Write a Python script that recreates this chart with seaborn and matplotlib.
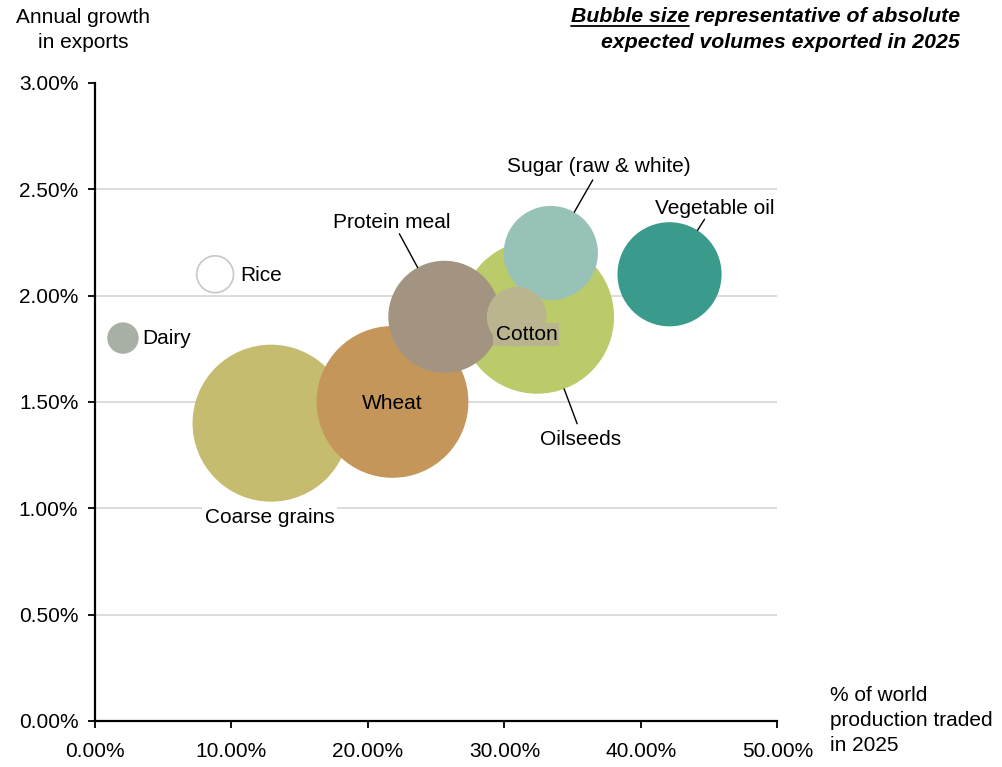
import matplotlib
matplotlib.use("Agg")
import matplotlib.pyplot as plt
from matplotlib.ticker import FuncFormatter, MultipleLocator
import seaborn as sns
import pandas as pd

# Commodities, in drawing order (later bubbles sit on top)
commodities = ["Coarse grains", "Wheat", "Oilseeds", "Protein meal",
               "Sugar (raw & white)", "Cotton", "Vegetable oil", "Rice", "Dairy"]
# Share of world production traded in 2025 (%)
share_traded = [12.9, 21.8, 32.4, 25.6, 33.4, 30.9, 42.1, 8.8, 2.05]
# Annual growth in exports (%)
export_growth = [1.40, 1.50, 1.90, 1.90, 2.20, 1.90, 2.10, 2.10, 1.80]
# Relative export volume in 2025 (bubble area)
export_volume = [200, 187, 192, 102, 72, 29, 88, 11, 8]

# Horizontal reference lines
grid_levels = [0.5, 1.0, 1.5, 2.0, 2.5]

colors = {
    "Coarse grains": "#C6BC70",
    "Wheat": "#C4965A",
    "Oilseeds": "#BBCB6A",
    "Protein meal": "#A39482",
    "Sugar (raw & white)": "#98C2B8",
    "Cotton": "#BAB58E",
    "Vegetable oil": "#3A9B8C",
    "Rice": "#FFFFFF",
    "Dairy": "#A8AFA5",
}

df = pd.DataFrame({"commodity": commodities, "share": share_traded,
                   "growth": export_growth, "volume": export_volume})

sns.set_theme(style="white")
plt.rcParams["font.family"] = ["Liberation Sans", "DejaVu Sans"]
FS = 15

fig = plt.figure(figsize=(10.02, 7.67), dpi=100)
ax = fig.add_axes([0.0948, 0.06, 0.681, 0.832])

VMAX = 200
SMAX = 12775  # marker area (pt^2) for VMAX
edgecols = ["#C8C8C8" if c == "Rice" else "none" for c in commodities]
lws = [1.2 if c == "Rice" else 0 for c in commodities]

sns.scatterplot(data=df, x="share", y="growth", hue="commodity", palette=colors,
                size="volume", sizes=(0, SMAX), size_norm=(0, VMAX),
                edgecolor=edgecols, linewidth=lws, alpha=1, legend=False,
                ax=ax, zorder=3)

ax.set_xlim(0, 50)
ax.set_ylim(0, 3)
ax.xaxis.set_major_locator(MultipleLocator(10))
ax.yaxis.set_major_locator(MultipleLocator(0.5))
fmt = FuncFormatter(lambda v, p: f"{v:.2f}%")
ax.xaxis.set_major_formatter(fmt)
ax.yaxis.set_major_formatter(fmt)
ax.set_xlabel("")
ax.set_ylabel("")

for s in ["top", "right"]:
    ax.spines[s].set_visible(False)
for s in ["left", "bottom"]:
    ax.spines[s].set_color("black")
    ax.spines[s].set_linewidth(1.6)

ax.tick_params(axis="both", which="major", direction="out", length=5, width=1.3,
               color="black", labelsize=FS, labelcolor="black")
ax.tick_params(axis="y", pad=7, left=True)
ax.tick_params(axis="x", pad=10, bottom=True)

ax.grid(False)
for g in grid_levels:
    ax.axhline(g, color="#D9D9D9", linewidth=1.3, zorder=0)

# Bubble radius in points for a given volume
def radius_pt(v):
    return (SMAX * v / VMAX) ** 0.5 / 2

lookup = df.set_index("commodity")

def place(name, dx, dy, ha="center", bbox=None):
    r = lookup.loc[name]
    ax.annotate(name, xy=(r["share"], r["growth"]), xytext=(dx, dy),
                textcoords="offset points", ha=ha, va="center", fontsize=FS,
                color="black", zorder=6, bbox=bbox)

def leader(name, dx, dy):
    r = lookup.loc[name]
    ax.annotate("", xy=(r["share"], r["growth"]), xytext=(dx, dy),
                textcoords="offset points",
                arrowprops=dict(arrowstyle="-", color="black", lw=1.0,
                                shrinkA=0, shrinkB=radius_pt(r["volume"])),
                zorder=5)

place("Dairy", 14, 0, ha="left")
place("Rice", 18, -1, ha="left")
place("Coarse grains", -1, -68, bbox=dict(facecolor="white", edgecolor="none", pad=2))
place("Wheat", 0, -1.5)
place("Cotton", 7, -13, bbox=dict(facecolor="#B9B48E", edgecolor="none", pad=1.5))
place("Protein meal", -38, 68)
leader("Protein meal", -32.4, 59.8)
place("Oilseeds", 31, -88)
leader("Oilseeds", 28.8, -77)
place("Sugar (raw & white)", 34.5, 62)
leader("Sugar (raw & white)", 30.2, 52.6)
place("Vegetable oil", 32.4, 47.5)
leader("Vegetable oil", 25.2, 39.6)

fig.text(83 / 1002, 1 - 30 / 767, "Annual growth\nin exports", ha="center",
         va="center", fontsize=FS, color="black", linespacing=1.4)
fig.text(830 / 1002, 1 - 720.5 / 767, "% of world\nproduction traded\nin 2025",
         ha="left", va="center", fontsize=FS, color="black", linespacing=1.4)

# Heading: underlined lead words followed by the rest of the first line
TFS = 15.3
t2 = fig.text(960 / 1002, 1 - 42 / 767, "expected volumes exported in 2025",
              ha="right", va="center", fontsize=TFS, fontweight="bold",
              fontstyle="italic", color="black")
t1 = fig.text(960 / 1002, 1 - 17 / 767, " representative of absolute",
              ha="right", va="center", fontsize=TFS, fontweight="bold",
              fontstyle="italic", color="black")
fig.canvas.draw()
bb = t1.get_window_extent()
x_lead = bb.x0 / fig.bbox.width
t0 = fig.text(x_lead, 1 - 17 / 767, "Bubble size", ha="right", va="center",
              fontsize=TFS, fontweight="bold", fontstyle="italic", color="black")
fig.canvas.draw()
b0 = t0.get_window_extent()
y_line = (b0.y0 + 1) / fig.bbox.height
fig.add_artist(plt.Line2D([b0.x0 / fig.bbox.width, b0.x1 / fig.bbox.width],
                          [y_line, y_line], color="black", lw=1.3,
                          transform=fig.transFigure))

fig.savefig("out.png", dpi=100, facecolor="white")
